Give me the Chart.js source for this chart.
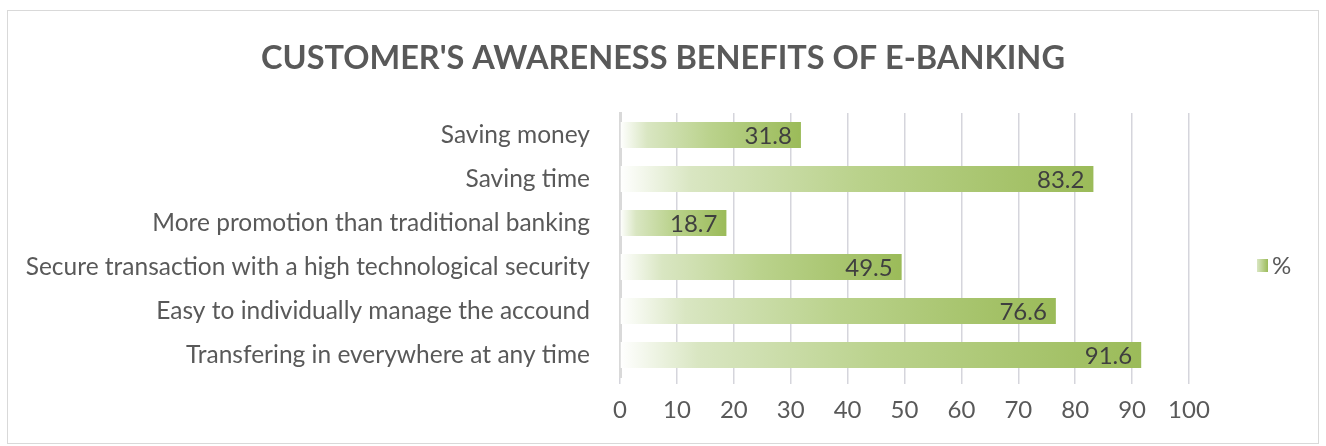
<!DOCTYPE html>
<html>
<head>
<meta charset="utf-8">
<script src="https://cdn.jsdelivr.net/npm/chart.js@4/dist/chart.umd.min.js"></script>
<style>
  body { margin: 0; background: #fff; }
  #box { position: absolute; left: 7px; top: 10px; width: 1310px; height: 432px; border: 1px solid #d9d9d9; }
  canvas { display: block; }
</style>
</head>
<body>
<div id="box"><canvas id="myChart" width="1310" height="432"></canvas></div>
<script>
// DATA
const categories = [
  'Saving money',
  'Saving time',
  'More promotion than traditional banking',
  'Secure transaction with a high technological security',
  'Easy to individually manage the accound',
  'Transfering in everywhere at any time'
];
const percentValues = [31.8, 83.2, 18.7, 49.5, 76.6, 91.6];
const seriesName = '%';
const xTicks = [0, 10, 20, 30, 40, 50, 60, 70, 80, 90, 100];

const textGrey = '#595959';
const green = '#9bbb59';

// gradient from bar base (white) to bar end (green)
function barGradient(context) {
  const chart = context.chart;
  if (!chart.chartArea || context.dataIndex === undefined) return green;
  const x = chart.scales.x;
  const x0 = x.getPixelForValue(0);
  const x1 = x.getPixelForValue(context.raw);
  const g = chart.ctx.createLinearGradient(x0, 0, x1, 0);
  g.addColorStop(0, 'rgba(255,255,255,1)');
  g.addColorStop(0.15, '#d9e6c2');
  g.addColorStop(0.5, '#bad28c');
  g.addColorStop(1, green);
  return g;
}

// values inside bar end
const valueLabels = {
  id: 'valueLabels',
  afterDatasetsDraw(chart) {
    const ctx = chart.ctx;
    const meta = chart.getDatasetMeta(0);
    ctx.save();
    ctx.font = '24px Lato';
    ctx.fillStyle = '#3f3f3f';
    ctx.textAlign = 'right';
    ctx.textBaseline = 'middle';
    meta.data.forEach((bar, i) => {
      ctx.fillText(percentValues[i].toFixed(1), bar.x - 9, bar.y + 1);
    });
    ctx.restore();
  }
};

// legend at right
const sideLegend = {
  id: 'sideLegend',
  afterDraw(chart) {
    const ctx = chart.ctx;
    const area = chart.chartArea;
    const lx = area.right + 68;
    const ly = (area.top + area.bottom) / 2 + 21;
    ctx.save();
    const g = ctx.createLinearGradient(lx, 0, lx + 11, 0);
    g.addColorStop(0, '#d9e6c2');
    g.addColorStop(1, green);
    ctx.fillStyle = g;
    ctx.fillRect(lx, ly - 7, 11, 13);
    ctx.font = '24px Lato';
    ctx.fillStyle = textGrey;
    ctx.textAlign = 'left';
    ctx.textBaseline = 'middle';
    ctx.fillText(seriesName, lx + 15, ly);
    ctx.restore();
  }
};

const ctx = document.getElementById('myChart').getContext('2d');
const myChart = new Chart(ctx, {
  type: 'bar',
  data: {
    labels: categories,
    datasets: [{
      label: seriesName,
      data: percentValues,
      backgroundColor: barGradient,
      borderWidth: 0,
      barPercentage: 0.59,
      categoryPercentage: 1
    }]
  },
  options: {
    indexAxis: 'y',
    responsive: false,
    animation: false,
    layout: { padding: 0 },
    plugins: {
      legend: { display: false },
      tooltip: { enabled: false },
      title: {
        display: true,
        text: "CUSTOMER'S AWARENESS BENEFITS OF E-BANKING",
        color: textGrey,
        font: { family: 'Lato', size: 32.5, weight: 'bold' },
        padding: { top: 28, bottom: 35 }
      }
    },
    scales: {
      x: {
        min: 0,
        max: 100,
        afterBuildTicks(scale) {
          scale.ticks = xTicks.map(v => ({ value: v }));
        },
        afterFit(scale) { scale.height = 66; },
        grid: { color: '#d5d5dc', lineWidth: 1.5, tickLength: 7, drawTicks: true },
        border: { display: false },
        ticks: {
          color: textGrey,
          font: { family: 'Lato', size: 24 },
          padding: 12
        }
      },
      y: {
        afterFit(scale) { scale.width = 612; },
        grid: { display: false },
        border: { display: true, color: '#d9d9d9', width: 3 },
        ticks: {
          color: textGrey,
          font: { family: 'Lato', size: 24.5 },
          padding: 22
        }
      },
      // empty right axis keeps room for the legend
      yRight: {
        type: 'category',
        position: 'right',
        labels: categories,
        afterFit(scale) { scale.width = 129; },
        grid: { display: false },
        border: { display: false },
        ticks: { display: false }
      }
    }
  },
  plugins: [valueLabels, sideLegend]
});
</script>
</body>
</html>
